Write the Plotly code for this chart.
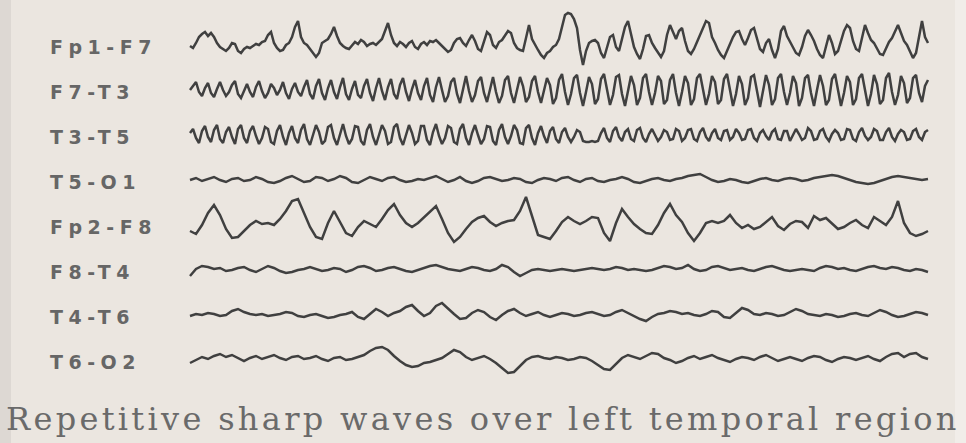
import numpy as np
import plotly.graph_objects as go

# ---------------- data (amplitudes in µV) ----------------
CHANNELS = ["Fp1-F7", "F7-T3", "T3-T5", "T5-O1", "Fp2-F8", "F8-T4", "T4-T6", "T6-O2"]
DURATION_S = 10.0
TITLE = "Repetitive sharp waves over left temporal region"

fp1_f7 = [
    -1, -3, 2, 8, 11, 13, 9, 12, 8, 2, -2, -4, -6, -3, 2, 1, -6, -8, -4, -2,
    -3, -1, 1, 0, 3, 4, 10, 13, 2, -3, -6, -5, 0, 2, 8, 18, 24, 8, 2, 0,
    -4, -7, -12, -8, 2, 4, 6, 11, 18, 9, 2, -1, -3, -4, 0, 3, 1, 5, 3, -1,
    1, 2, 0, 3, 6, 14, 22, 10, 2, -1, 3, 1, -2, 2, 4, -2, -4, 1, 3, 0,
    4, 3, 5, 2, -1, -4, -7, -5, 2, 6, 7, 2, -1, 5, 10, 4, -4, -6, 3, 13,
    10, 0, -3, 3, 5, 9, 14, 12, 2, -3, -5, -6, 8, 20, 6, 0, -5, -10, -13, -8,
    -6, -2, 0, 6, 18, 30, 32, 31, 26, 17, -5, -20, -6, 2, 4, 5, 2, -8, -13, -2,
    8, 10, -2, -6, 6, 18, 24, 10, -2, -9, -14, -4, 9, 10, 2, -3, -8, -12, -6, 10,
    20, 12, 6, 14, 17, 4, -6, -9, -4, 3, 10, 18, 24, 22, 8, 2, -5, -10, -13, -6,
    2, 8, 13, 14, 6, 0, 7, 15, 17, 6, -4, -7, 2, 6, -5, -13, -4, 14, 19, 9,
    3, -3, -8, -10, -2, 9, 15, 10, 4, -4, -10, -13, -2, 10, 2, -9, -6, 4, 14, 20,
    17, 4, -4, -6, 8, 20, 12, 5, 2, -4, -9, -10, -3, 3, 7, 14, 20, 12, 4, 0,
    -6, -13, -8, 10, 24, 8, 2,
]
f7_t3 = [
    0, 4, 8, -2, -6, 2, 7, -3, -7, 1, 8, 0, -6, -2, 5, 9, -4, -8, 0, 6,
    -2, -7, 3, 9, -1, -8, -3, 6, 2, -5, 0, 8, -3, -9, 1, 7, -2, -6, 3, 10,
    -4, -9, 4, 11, -3, -10, 2, 10, -2, -9, 3, 12, -4, -10, 1, 9, -5, -8, 4, 11,
    -3, -11, 2, 12, -1, -10, 3, 11, -4, -9, 5, 12, -2, -11, 1, 10, -3, -10, 4, 12,
    -5, -12, 3, 13, 0, -12, -6, 8, 12, -4, -13, 2, 14, -1, -12, -5, 9, 13, -3, -12,
    1, 13, -2, -13, -6, 10, 14, -3, -13, 0, 13, 4, -12, -7, 9, 14, -2, -13, -1, 12,
    5, -14, -8, 10, 16, -2, -15, -4, 12, 15, -3, -16, -2, 13, 6, -14, -9, 11, 16, -1,
    -15, -5, 13, 15, -4, -16, 0, 14, 5, -15, -8, 12, 16, -2, -15, -3, 14, 9, -14, -10,
    10, 16, -3, -16, -2, 14, 7, -15, -9, 12, 16, -1, -15, -4, 14, 8, -14, -10, 11, 16,
    -2, -16, -4, 14, 6, -15, -8, 13, 15, -3, -17, -1, 15, 5, -15, -9, 12, 16, -2, -15,
    -3, 14, 7, -16, -8, 12, 15, -3, -16, 0, 15, 4, -15, -10, 11, 16, -2, -16, -3, 14,
    8, -15, -9, 12, 16, -1, -16, -4, 15, 6, -14, -10, 12, 17, -2, -15, -5, 14, 7, -13,
    -8, 12, 15, -3, -12, 4, 10,
]
t3_t5 = [
    2, 6, -3, -8, 4, 9, -2, -7, 5, 10, -4, -8, 3, 8, -2, -9, 6, 10, -3, -8,
    4, 9, -1, -9, -3, 8, 6, -7, -9, 4, 10, -2, -10, 2, 9, -3, -8, 5, 11, -4,
    -10, 1, 10, 3, -9, -6, 8, 10, -3, -10, 2, 11, -1, -9, -4, 9, 8, -6, -10, 5,
    11, -2, -10, 0, 10, 4, -9, -7, 8, 11, -3, -10, 1, 10, 2, -9, -6, 9, 9, -5,
    -10, 3, 11, -1, -9, -3, 9, 7, -7, -9, 6, 11, -3, -10, 2, 10, 0, -9, -4, 9,
    8, -6, -10, 5, 11, -2, -9, -1, 10, 5, -8, -9, 7, 10, -3, -10, 2, 9, -1, -8,
    4, 8, -4, -8, 3, 7, -2, -7, -2, 5, 3, -6, -7, -7, -6, -7, -6, 2, 7, -3,
    -7, 4, 8, -2, -6, 3, 6, -4, -6, 5, 7, -3, -7, 1, 6, 0, -6, -2, 5, 3,
    -5, -4, 6, 4, -6, -3, 5, 6, -4, -6, 3, 7, -2, -6, 2, 6, -3, -5, 4, 5,
    -5, -2, 6, 2, -5, -4, 5, 6, -3, -6, 2, 5, -1, -5, 3, 6, -4, -5, 4, 4,
    -6, 0, 6, 1, -5, -3, 7, 4, -5, -4, 4, 6, -2, -6, 1, 5, 2, -5, -4, 6,
    5, -4, -6, 3, 7, -1, -5, -2, 6, 4, -5, -5, 3, 7, -2, -6, 1, 5, 3, -5,
    -4, 4, 6, -2, -5, 3, 5,
]
t5_o1 = [
    0, 2, -1, 1, 3, 0, -2, 1, 2, -1, 0, 3, 1, -2, -3, -1, 2, 4, 1, -2,
    -1, 3, 2, -1, 1, 4, 2, -2, -3, 0, 3, 1, -1, 2, 3, 0, -2, -1, 1, 0,
    2, 4, 1, -2, 0, 3, -1, -3, -1, 2, 3, 1, -1, 0, 2, 1, -2, -3, 0, 2,
    1, -1, 2, 3, 0, -2, 1, 2, -1, -2, 0, 1, 3, 1, -2, -3, -1, 1, 2, 0,
    -1, 1, 2, 4, 5, 6, 3, 0, -2, -1, 1, 0, -2, -3, -1, 1, 2, 0, -1, 1,
    2, 1, -1, 0, 2, 3, 4, 5, 4, 2, 0, -2, -3, -4, -3, -1, 1, 3, 4, 3,
    2, 1, 0, 1,
]
fp2_f8 = [
    -6, -9, 0, 12, 20, 10, -4, -13, -12, -6, 0, 4, 1, 2, 0, 6, 14, 24, 26, 12,
    -2, -12, -14, 2, 14, 3, -8, -11, -2, 4, 1, -2, 6, 15, 21, 10, 2, -2, 2, 8,
    14, 19, 6, -8, -17, -12, -4, 3, 7, 9, 3, -1, 2, 4, 5, 14, 28, 10, -10, -12,
    -14, -6, 3, 8, 4, 1, 4, 8, 7, -8, -16, 2, 16, 8, 1, -4, -8, -9, 0, 12,
    21, 10, 3, -8, -16, -8, 2, 4, 2, 4, 10, 2, -3, 0, -4, -2, 3, 8, -1, -5,
    1, 4, 3, -3, 9, 5, 7, 1, -4, -2, 2, 5, 0, -3, 8, 4, 0, 8, 24, 2,
    -8, -11, -9, -6,
]
f8_t4 = [
    -6, 1, 4, 3, 1, 2, -1, 0, 2, 3, 0, -2, 1, 4, 2, -1, -3, -2, 0, 1,
    3, 1, -1, 0, 2, 1, -2, 0, 3, 4, 2, -1, 0, 2, 3, 1, -1, -2, 0, 2,
    4, 5, 3, 1, 0, -1, 1, 3, 2, 0, -1, 1, 5, 3, -2, -6, -3, 0, 1, 0,
    -1, 0, 1, 0, -1, 0, 1, 2, 1, 0, 1, 3, 2, 0, 1, 0, -1, 0, 2, 4,
    3, 1, 2, 5, 1, -1, 0, 3, 4, 2, 0, 1, 2, 0, -1, 1, 3, 4, 2, 0,
    -1, 0, 1, 0, -1, 2, 4, 3, 1, 2, 0, -1, 1, 3, 4, 2, 1, 3, 2, 0,
    -1, 1, 0, -2,
]
t4_t6 = [
    -1, 1, 0, 2, 1, -1, 0, 4, 6, 3, 1, 0, 1, -1, 0, 1, 3, 2, -1, -2,
    0, 1, -1, -3, -2, 0, 1, 3, -2, -4, 1, 6, 3, -1, 2, 4, 8, 10, 4, -1,
    2, 9, 12, 6, 1, -4, -3, 2, 5, 3, -2, -5, 0, 4, 6, 2, -1, 1, 3, 0,
    -2, 0, 2, 1, -1, 0, 2, 3, 1, -1, 0, 3, 5, 2, -1, -4, -6, -2, 1, 2,
    4, 3, 1, 2, 0, -1, 1, 4, 3, -2, -3, 2, 7, 5, 1, 0, 2, 1, -1, 0,
    3, 6, 4, 1, 0, -1, 1, 0, -2, -1, 1, 2, 0, -1, 2, 5, 3, 0, -2, -1,
    1, 3, 2, 0,
]
t6_o2 = [
    -3, 0, 3, 1, 4, 6, 3, 5, 2, -1, 2, 4, 1, 3, 5, 2, 0, 3, 4, 1,
    2, 4, 1, -1, 2, 3, 0, 1, 3, 5, 9, 12, 13, 10, 4, -1, -5, -7, -6, -3,
    -2, 0, 2, 6, 10, 8, 3, 0, 2, 4, 1, -3, -8, -13, -12, -6, 0, 3, 4, 2,
    1, 3, 2, 0, 1, 3, 2, -1, -5, -9, -10, -4, 2, 5, 3, 1, 4, 7, 6, 2,
    0, -3, -1, 2, 4, 1, 3, 5, 2, 0, -2, 1, 3, 2, 0, 3, 5, 2, -1, 1,
    3, 1, -1, 2, 4, 3, 0, -2, 1, 3, 2, 0, 2, 4, 1, -1, 3, 6, 7, 3,
    6, 7, 3, 1,
]
SIGNALS = [fp1_f7, f7_t3, t3_t5, t5_o1, fp2_f8, f8_t4, t4_t6, t6_o2]

# ---------------- layout constants ----------------
W, H = 966, 443
CH_SPACING = 45.0            # µV between channel baselines
TRACE_PX0, TRACE_PX1 = 190, 928
px_per_s = (TRACE_PX1 - TRACE_PX0) / DURATION_S
x_range = [-TRACE_PX0 / px_per_s, DURATION_S + (W - TRACE_PX1) / px_per_s]
y_range = [-H * 1.0, 0.0]    # 1 µV per pixel
BG = "#ebe6e0"
TRACE_COLOR = "#404040"
LABEL_COLOR = "#666666"

fig = go.Figure()
for i, (name, sig) in enumerate(zip(CHANNELS, SIGNALS)):
    v = np.asarray(sig, dtype=float)
    t = np.linspace(0.0, DURATION_S, len(v))
    base = -(i + 1) * CH_SPACING
    fig.add_trace(go.Scatter(
        x=t, y=base + v, mode="lines", name=name,
        line=dict(color=TRACE_COLOR, width=2.5), hoverinfo="skip",
        showlegend=False,
    ))
    fig.add_annotation(
        x=48 / W, xref="paper", xanchor="left",
        y=base, yref="y", yanchor="middle", yshift=-2,
        text=f'<span style="letter-spacing:5.5px">{name}</span>',
        showarrow=False,
        font=dict(family="DejaVu Sans", size=19, color=LABEL_COLOR, weight="bold"),
    )

fig.add_annotation(
    x=0.5, xref="paper", xanchor="center",
    y=1 - 419 / H, yref="paper", yanchor="middle",
    text=f'<span style="letter-spacing:3.3px">{TITLE}</span>',
    showarrow=False,
    font=dict(family="DejaVu Serif", size=32, color="#6a6a6a"),
)

fig.add_shape(type="rect", xref="paper", yref="paper", x0=0, x1=11 / W, y0=0, y1=1,
              fillcolor="#ddd8d3", line=dict(width=0), layer="below")
fig.add_shape(type="rect", xref="paper", yref="paper", x0=955 / W, x1=1, y0=0, y1=1,
              fillcolor="#f1ede9", line=dict(width=0), layer="below")

fig.update_layout(
    width=W, height=H, margin=dict(l=0, r=0, t=0, b=0),
    paper_bgcolor=BG, plot_bgcolor=BG,
    xaxis=dict(range=x_range, visible=False, fixedrange=True),
    yaxis=dict(range=y_range, visible=False, fixedrange=True),
)
fig.write_html(
    "out.html",
    config={"displayModeBar": False, "staticPlot": True},
    post_script="document.body.style.margin='0';document.body.style.overflow='hidden';",
)
